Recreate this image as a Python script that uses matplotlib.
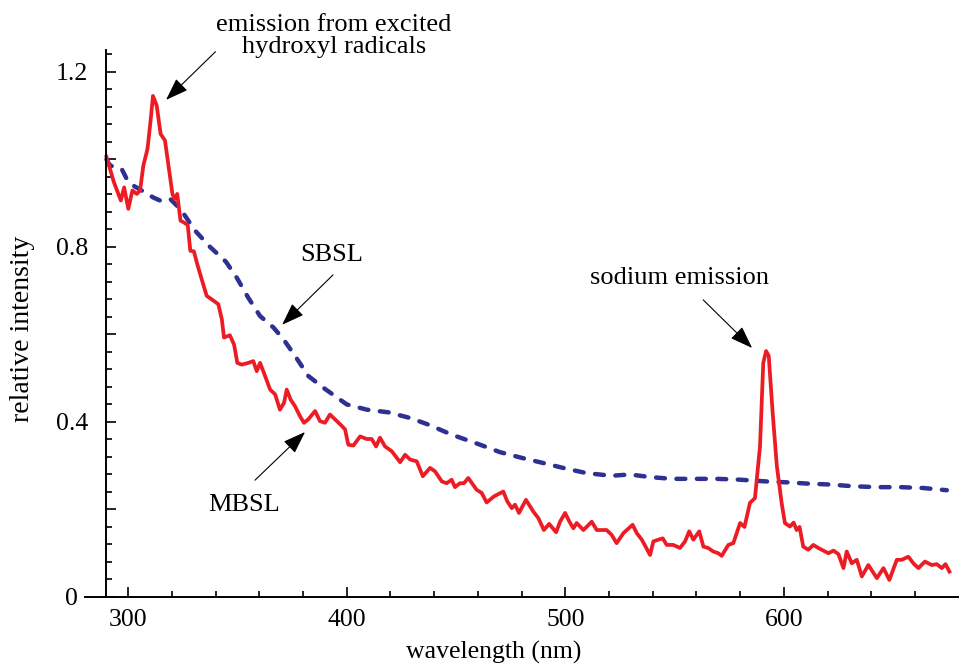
import matplotlib.pyplot as plt
import numpy as np

# MBSL spectrum (red solid)
mbsl_nm = [290, 293.4, 296.6, 298.1, 300, 301.9, 303.9, 305.4, 306.9, 308.8,
           310.3, 311.3, 313, 314.8, 316.8, 318.6, 320.2, 321.2, 322.4, 323.9,
           325.4, 327.2, 328.4, 330, 331.6, 333.6, 335.9, 338.2, 341.2, 342.8,
           343.8, 346.5, 348.4, 349.9, 351.9, 355, 357.2, 358.8, 360.3, 362.6,
           364.9, 367.2, 369.4, 371.3, 372.5, 374.3, 376.3, 378.6, 380.4, 382.4,
           385.5, 387.7, 390, 392.3, 395.4, 397.5, 399.2, 400.7, 403, 406.1,
           409.1, 411.4, 413.4, 415.2, 417.5, 420.6, 424.4, 426.7, 429, 432,
           434.8, 438.1, 440.4, 443.5, 445.7, 448, 449.5, 451.8, 453.6, 455.6,
           459.4, 461.7, 464, 467.4, 471.6, 473.5, 475.5, 477, 478.8, 482,
           485.4, 487.7, 490.2, 492.6, 495.8, 497.6, 499.9, 501.9, 503.7, 505.2,
           508.3, 512.1, 514.4, 518.9, 521.2, 523.5, 526.6, 530.8, 532.7, 535,
           538.8, 540.3, 542.6, 544.6, 546.4, 549.4, 552.5, 554.8, 556.7, 558.6,
           561.3, 563.2, 565.4, 567.7, 570, 571.6, 574.6, 576.9, 580, 582,
           584.5, 586.8, 589.1, 590.6, 591.9, 593.1, 594.9, 596.8, 599, 600.5,
           602.8, 604.5, 605.9, 607.2, 608.9, 611.2, 613.5, 615.8, 620.4, 622.7,
           625, 627.3, 628.8, 631.1, 633.4, 635.7, 638.7, 642.6, 645.6, 648.3,
           651.7, 654, 657, 659.3, 661.6, 664.6, 667.7, 670, 672.3, 674, 675.8]
mbsl_val = [1.006, 0.948, 0.906, 0.936, 0.887, 0.929, 0.921, 0.929, 0.986, 1.024,
            1.093, 1.145, 1.123, 1.058, 1.043, 0.978, 0.921, 0.909, 0.921, 0.860,
            0.856, 0.850, 0.791, 0.790, 0.760, 0.726, 0.688, 0.680, 0.669, 0.635,
            0.593, 0.598, 0.577, 0.535, 0.531, 0.535, 0.539, 0.516, 0.535, 0.505,
            0.474, 0.463, 0.428, 0.444, 0.474, 0.451, 0.436, 0.413, 0.398, 0.406,
            0.425, 0.402, 0.398, 0.417, 0.402, 0.392, 0.383, 0.348, 0.346, 0.367,
            0.361, 0.361, 0.344, 0.364, 0.344, 0.333, 0.308, 0.325, 0.314, 0.310,
            0.276, 0.295, 0.287, 0.264, 0.260, 0.268, 0.251, 0.260, 0.260, 0.272,
            0.245, 0.238, 0.216, 0.230, 0.241, 0.218, 0.203, 0.211, 0.192, 0.222,
            0.195, 0.180, 0.153, 0.167, 0.148, 0.172, 0.192, 0.172, 0.157, 0.169,
            0.153, 0.172, 0.153, 0.153, 0.142, 0.123, 0.146, 0.165, 0.146, 0.131,
            0.096, 0.127, 0.131, 0.134, 0.119, 0.119, 0.112, 0.127, 0.150, 0.131,
            0.150, 0.115, 0.112, 0.104, 0.100, 0.094, 0.119, 0.123, 0.169, 0.160,
            0.215, 0.226, 0.344, 0.535, 0.562, 0.551, 0.421, 0.300, 0.215, 0.169,
            0.161, 0.170, 0.153, 0.160, 0.115, 0.108, 0.119, 0.112, 0.100, 0.106,
            0.098, 0.066, 0.104, 0.077, 0.085, 0.047, 0.073, 0.043, 0.066, 0.039,
            0.085, 0.085, 0.092, 0.077, 0.066, 0.081, 0.073, 0.075, 0.066, 0.075, 0.058]

# SBSL spectrum (blue dashed)
sbsl_nm = [290, 291.6, 297, 299.3, 302.3, 306.1, 311.4, 314.5, 319.1, 323.7,
           326, 330.6, 337.4, 344.7, 349.6, 354.9, 360.3, 366.4, 371, 376.3,
           382.4, 389.3, 400, 409.2, 419, 429, 437.3, 448, 461, 470.1,
           480, 490, 500.6, 509.8, 521.2, 529.6, 538.8, 548.7, 559.4, 569.3,
           580, 592.2, 601.4, 611.2, 621.2, 631.8, 642.5, 653.2, 663.9, 674.6]
sbsl_val = [1.0, 0.986, 0.978, 0.955, 0.940, 0.929, 0.913, 0.906, 0.910, 0.887,
            0.871, 0.837, 0.800, 0.766, 0.730, 0.684, 0.642, 0.616, 0.589, 0.551,
            0.505, 0.478, 0.440, 0.428, 0.422, 0.409, 0.394, 0.371, 0.348, 0.331,
            0.318, 0.306, 0.293, 0.283, 0.277, 0.280, 0.274, 0.270, 0.270, 0.270,
            0.268, 0.264, 0.262, 0.259, 0.257, 0.253, 0.251, 0.251, 0.249, 0.244]

x_major = [300, 400, 500, 600]
y_major = [0, 0.2, 0.4, 0.6, 0.8, 1.0, 1.2]
y_labels = ['0', '', '0.4', '', '0.8', '', '1.2']

plt.rcParams['font.family'] = ['Liberation Serif', 'DejaVu Serif']
fs = 18.5

fig = plt.figure(figsize=(9.59, 6.68), dpi=100)
ax = fig.add_axes([0.0882, 0.1063, 0.9114, 0.8189])

ax.plot(sbsl_nm, sbsl_val, color='#2E3192', linewidth=3.2,
        dashes=(2.0, 2.6), dash_capstyle='round', solid_capstyle='round')
ax.plot(mbsl_nm, mbsl_val, color='#ED1C24', linewidth=2.7,
        solid_joinstyle='round')

ax.set_xlim(280, 680)
ax.set_ylim(0, 1.25)

ax.spines['top'].set_visible(False)
ax.spines['right'].set_visible(False)
ax.spines['left'].set_position(('data', 290))
ax.spines['left'].set_linewidth(1.4)
ax.spines['bottom'].set_linewidth(1.4)

ax.set_xticks(x_major)
ax.set_xticks([v for v in range(320, 680, 20) if v % 100 != 0], minor=True)
ax.set_yticks(y_major)
ax.set_yticklabels(y_labels)
ax.set_yticks([v for v in np.arange(0.04, 1.25, 0.04) if abs(v / 0.2 - round(v / 0.2)) > 0.01], minor=True)

ax.tick_params(which='both', direction='in', width=1.2, labelsize=fs)
ax.tick_params(which='major', length=7)
ax.tick_params(which='minor', length=4)
ax.tick_params(axis='x', pad=9)
ax.tick_params(axis='y', pad=25)
for lbl in ax.get_yticklabels():
    lbl.set_horizontalalignment('center')

ax.set_xlabel('wavelength (nm)', fontsize=fs)
ax.xaxis.set_label_coords(0.468, -0.080)
ax.set_ylabel('relative intensity', fontsize=20)
ax.yaxis.set_label_coords(-0.057, 0.49)

arrow = dict(arrowstyle='-|>,head_length=0.7,head_width=0.25', color='black',
             linewidth=0.8, mutation_scale=20, shrinkA=0, shrinkB=0)

ax.text(394.2, 1.282, 'emission from excited\nhydroxyl radicals', fontsize=19,
        ha='center', va='center', linespacing=1.05, clip_on=False)
ax.annotate('', xy=(317.3, 1.136), xytext=(339.9, 1.246), arrowprops=arrow,
            annotation_clip=False)

ax.text(393.3, 0.782, 'SBSL', fontsize=19, ha='center', va='center')
ax.annotate('', xy=(370.4, 0.622), xytext=(393.7, 0.736), arrowprops=arrow)

ax.text(352.9, 0.210, 'MBSL', fontsize=19, ha='center', va='center')
ax.annotate('', xy=(380.9, 0.377), xytext=(358.0, 0.267), arrowprops=arrow)

ax.text(552.1, 0.729, 'sodium emission', fontsize=19, ha='center', va='center')
ax.annotate('', xy=(585.5, 0.569), xytext=(563.1, 0.679), arrowprops=arrow)

fig.savefig('out.png', dpi=100)
